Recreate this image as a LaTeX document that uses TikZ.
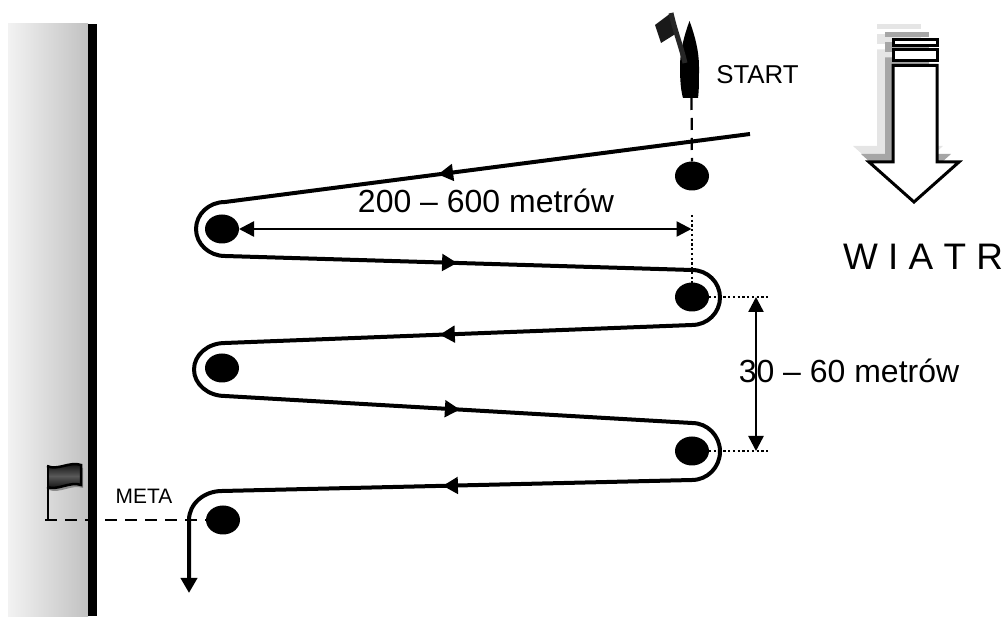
\documentclass[tikz,border=0pt]{standalone}
\usepackage{fontspec}
\setmainfont{Liberation Sans}
\usetikzlibrary{calc,arrows.meta,shapes.geometric}

\tikzset{
	buoy/.style={ellipse, fill=black, minimum width=0.68cm, minimum height=0.58cm, inner sep=0pt, outer sep=0pt},
	track/.style={line width=0.08cm, line join=round},
	legtip/.style={-{Triangle[length=0.30cm,width=0.34cm]}, line width=0.04cm},
	measure/.style={{Triangle[length=0.30cm,width=0.30cm]}-{Triangle[length=0.30cm,width=0.30cm]}, line width=0.05cm},
	guide/.style={line width=0.04cm, dash pattern=on 0.045cm off 0.05cm},
	course/.style={line width=0.045cm, dash pattern=on 0.24cm off 0.16cm},
	label/.style={inner sep=0pt, anchor=base},
	windarrow/.pic={
		\path[pic actions] (-0.90,0.80) -- (0,0) -- (0.90,0.80) -- (0.46,0.80) -- (0.46,2.73) -- (-0.42,2.73) -- (-0.42,0.80) -- cycle;
		\path[pic actions] (-0.42,2.83) rectangle (0.46,3.04);
		\path[pic actions] (-0.42,3.13) rectangle (0.46,3.24);
	},
}

\begin{document}
\begin{tikzpicture}

	% ------------------------------------------------
	% Ensure the dimensions of graphic are appropriate
	\useasboundingbox (0,0) rectangle (20.14cm,12.32cm);

	% ------------------------------------------------
	% Relevant coordinates
	\coordinate (LegAStart) at (15.00cm,9.64cm);
	\coordinate (LegAEnd) at (4.50cm,8.28cm);
	\coordinate (LegBStart) at (4.50cm,7.20cm);
	\coordinate (LegBEnd) at (13.84cm,6.92cm);
	\coordinate (LegCStart) at (13.84cm,5.82cm);
	\coordinate (LegCEnd) at (4.50cm,5.46cm);
	\coordinate (LegDStart) at (4.50cm,4.40cm);
	\coordinate (LegDEnd) at (13.84cm,3.86cm);
	\coordinate (LegEStart) at (13.84cm,2.72cm);
	\coordinate (LegEEnd) at (4.44cm,2.50cm);
	\coordinate (TrackEnd) at (3.78cm,0.46cm);

	\coordinate (BoatStern) at (13.83cm,10.36cm);
	\coordinate (FlagFoot) at (0.90cm,1.92cm);
	\coordinate (WindTip) at (18.28cm,8.28cm);

	\coordinate (WidthUpper) at (13.83cm,8.02cm);
	\coordinate (WidthMark) at (13.83cm,7.74cm);
	\coordinate (WidthLower) at (13.83cm,6.66cm);

	\coordinate (GapUpper) at (15.12cm,6.38cm);
	\coordinate (GapLower) at (15.12cm,3.30cm);
	\coordinate (GuideUpper) at (15.40cm,6.38cm);
	\coordinate (GuideLower) at (15.40cm,3.30cm);

	% ----------------
	% Shore
	\shade[left color=black!5, right color=black!24] (0.16cm,0) rectangle (1.76cm,11.84cm);
	\fill[black] (1.76cm,0) rectangle (1.94cm,11.84cm);

	% ----------------
	% Buoys
	\node[buoy] (BuoyStart) at (13.84cm,8.80cm) {};
	\node[buoy] (BuoyUpperLeft) at (4.44cm,7.74cm) {};
	\node[buoy] (BuoyUpperRight) at (13.84cm,6.38cm) {};
	\node[buoy] (BuoyLowerLeft) at (4.44cm,4.96cm) {};
	\node[buoy] (BuoyLowerRight) at (13.84cm,3.30cm) {};
	\node[buoy] (BuoyFinish) at (4.46cm,1.92cm) {};

	%%%%%%%%%%%%%%%%%%%%%%%%%%%%%%%%%%%%%%%%%
	%Course
	\draw[track, -{Triangle[length=0.30cm,width=0.32cm]}] (LegAStart) -- (LegAEnd)
		arc [start angle=90, end angle=270, x radius=0.58cm, y radius=0.54cm] -- (LegBEnd)
		arc [start angle=90, end angle=-90, x radius=0.56cm, y radius=0.55cm] -- (LegCEnd)
		arc [start angle=90, end angle=270, x radius=0.62cm, y radius=0.53cm] -- (LegDEnd)
		arc [start angle=90, end angle=-90, x radius=0.56cm, y radius=0.57cm] -- (LegEEnd)
		arc [start angle=90, end angle=180, x radius=0.66cm, y radius=0.58cm] -- (TrackEnd);

	\foreach \from/\to/\tip in {LegAStart/LegAEnd/0.594, LegBStart/LegBEnd/0.497, LegCStart/LegCEnd/0.540, LegDStart/LegDEnd/0.503, LegEStart/LegEEnd/0.530}
		\draw[legtip] ($(\from)!{\tip-0.03}!(\to)$) -- ($(\from)!\tip!(\to)$);

	% ----------------
	% Dashed start and finish lines
	\draw[course] (BoatStern) -- (BuoyStart);
	\draw[course] (FlagFoot) -- (BuoyFinish);

	% ----------------
	% Measures
	\draw[guide] (WidthUpper) -- (WidthLower);
	\draw[guide] (BuoyUpperRight) -- (GuideUpper);
	\draw[guide] (BuoyLowerRight) -- (GuideLower);
	\draw[measure] (BuoyUpperLeft) -- (WidthMark);
	\draw[measure] (GapUpper) -- (GapLower);

	% ----------------
	% Boat with its flag
	\fill[black] (13.79cm,11.90cm) .. controls (13.68cm,11.60cm) and (13.60cm,11.30cm) .. (13.60cm,10.98cm)
		.. controls (13.60cm,10.70cm) and (13.62cm,10.50cm) .. (13.66cm,10.36cm) -- (13.96cm,10.36cm)
		.. controls (13.98cm,10.50cm) and (13.98cm,10.70cm) .. (13.98cm,10.98cm)
		.. controls (13.98cm,11.30cm) and (13.90cm,11.60cm) .. (13.79cm,11.90cm) -- cycle;
	\fill[black!90] (13.10cm,11.82cm) -- (13.42cm,12.06cm) -- (13.54cm,11.66cm) -- (13.22cm,11.46cm) -- cycle;
	\draw[black!85, line width=0.10cm] (13.42cm,12.06cm) .. controls (13.50cm,11.70cm) and (13.62cm,11.40cm) .. (13.70cm,11.06cm);

	% ----------------
	% Finish flag
	\fill[black!45] (0.98cm,2.94cm) .. controls (1.19cm,2.84cm) and (1.44cm,3.04cm) .. (1.66cm,2.96cm) -- (1.66cm,2.56cm)
		.. controls (1.44cm,2.64cm) and (1.19cm,2.44cm) .. (0.98cm,2.52cm) -- cycle;
	\shade[top color=black, bottom color=black, middle color=black!65] (0.94cm,3.00cm) .. controls (1.15cm,2.90cm) and (1.40cm,3.10cm) .. (1.62cm,3.02cm)
		-- (1.62cm,2.62cm) .. controls (1.40cm,2.70cm) and (1.15cm,2.50cm) .. (0.94cm,2.58cm) -- cycle;
	\draw[line width=0.035cm] (0.96cm,3.00cm) -- (0.96cm,1.92cm);
	\draw[line width=0.05cm] (0.94cm,3.00cm) .. controls (1.15cm,2.90cm) and (1.40cm,3.10cm) .. (1.62cm,3.02cm)
		-- (1.62cm,2.62cm) .. controls (1.40cm,2.70cm) and (1.15cm,2.50cm) .. (0.94cm,2.58cm);

	% ----------------
	% Wind arrow
	\pic[fill=black!10] at ($(WindTip)+(-0.32cm,0.32cm)$) {windarrow};
	\pic[fill=black!35] at ($(WindTip)+(-0.16cm,0.16cm)$) {windarrow};
	\pic[fill=white, draw=black, line width=0.06cm] at (WindTip) {windarrow};

	% ----------------
	% Labels
	\node[label, font=\fontsize{14.7}{16}\selectfont] (StartLabel) at (15.15cm,10.65cm) {START};
	\node[label, font=\fontsize{18.2}{20}\selectfont] (WidthLabel) at (9.72cm,8.06cm) {200 – 600 metrów};
	\node[label, font=\fontsize{21}{23}\selectfont] (WindLabel) at (18.46cm,6.92cm) {W I A T R};
	\node[label, font=\fontsize{18.2}{20}\selectfont] (GapLabel) at (16.98cm,4.66cm) {30 – 60 metrów};
	\node[label, font=\fontsize{11.9}{13}\selectfont] (FinishLabel) at (2.88cm,2.24cm) {META};

\end{tikzpicture}
\end{document}
